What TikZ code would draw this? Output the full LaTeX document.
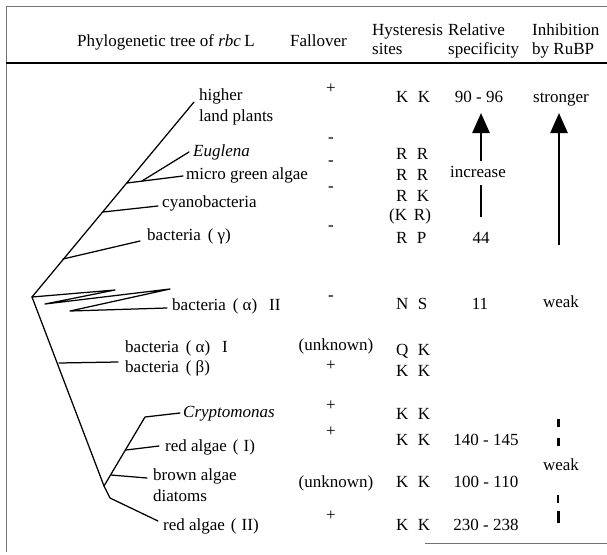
\documentclass[tikz,border=0pt]{standalone}
\usepackage{fontspec}
\setmainfont{Liberation Serif}
\usetikzlibrary{arrows.meta}
\begin{document}
\begin{tikzpicture}[x=1pt,y=-1pt,
  txt/.style={inner sep=0pt,text height=11.5pt,text depth=3.7pt,font=\fontsize{17}{20}\selectfont},
  lbl/.style={txt,anchor=west},
  ctr/.style={txt},
  tree/.style={line width=1.25pt,line cap=round,line join=round},
  framegray/.style={line width=0.9pt,draw=black!55},
  frameblack/.style={line width=1.3pt,draw=black},
  bigarrow/.style={line width=2.6pt,-{Triangle[length=20pt,width=17pt]}},
  stem/.style={line width=2.6pt},
  dashmark/.style={line width=3pt}]
\useasboundingbox (0,0) rectangle (607,554);
% frame
\coordinate (fTL) at (6,6);
\coordinate (fTR) at (607,6);
\coordinate (fBL) at (6,552);
\coordinate (hL) at (6,63);
\coordinate (hR) at (607,63);
\coordinate (bL) at (425,543);
\coordinate (bR) at (607,543);
\draw[framegray] (fTL) -- (fTR);
\draw[framegray] (fTL) -- (fBL);
\draw[frameblack] (hL) -- (hR);
\draw[framegray] (bL) -- (bR);
% header
\node[lbl] (hPhy) at (77,43) {Phylogenetic tree of \textit{rbc}\hspace{0.2em}L};
\node[lbl] (hFal) at (290,43) {Fallover};
\node[lbl] (hHys) at (372,32) {Hysteresis};
\node[lbl] (hSit) at (372,51) {sites};
\node[lbl] (hRel) at (448,32) {Relative};
\node[lbl] (hSpe) at (448,51) {specificity};
\node[lbl] (hInh) at (532,32) {Inhibition};
\node[lbl] (hBy)  at (532,51) {by RuBP};
% tree labels
\node[lbl] (tHig) at (199,97) {higher};
\node[lbl] (tLan) at (199,118) {land plants};
\node[lbl] (tEug) at (193,153) {\textit{Euglena}};
\node[lbl] (tMic) at (186,176) {micro green algae};
\node[lbl] (tCya) at (162,204) {cyanobacteria};
\node[lbl] (tGam) at (147,237) {bacteria\hspace{0.4em}(\hspace{0.25em}γ)};
\node[lbl] (tAl2) at (172,307) {bacteria\hspace{0.4em}(\hspace{0.25em}α)\hspace{0.7em}II};
\node[lbl] (tAl1) at (125,349) {bacteria\hspace{0.4em}(\hspace{0.25em}α)\hspace{0.7em}I};
\node[lbl] (tBet) at (125,369) {bacteria\hspace{0.4em}(\hspace{0.25em}β)};
\node[lbl] (tCry) at (183,414) {\textit{Cryptomonas}};
\node[lbl] (tRe1) at (165,448) {red algae\hspace{0.35em}(\hspace{0.3em}I)};
\node[lbl] (tBro) at (153,477) {brown algae};
\node[lbl] (tDia) at (153,498) {diatoms};
\node[lbl] (tRe2) at (163,527) {red algae\hspace{0.35em}(\hspace{0.3em}II)};
% tree
\coordinate (root) at (32,297);
\coordinate (eHig) at (194,102);
\coordinate (nMic) at (127,183);
\coordinate (eMic) at (183,176);
\coordinate (nEug) at (142,181);
\coordinate (eEug) at (189,152);
\coordinate (nCya) at (103,212);
\coordinate (eCya) at (158,206);
\coordinate (nGam) at (63,259);
\coordinate (eGam) at (140,241);
\coordinate (z1) at (115,290);
\coordinate (z2) at (45,304);
\coordinate (z3) at (170,289);
\coordinate (z4) at (70,311);
\coordinate (eAl2) at (167,308);
\coordinate (nBet) at (59,363);
\coordinate (eBet) at (118,362);
\coordinate (nSub) at (104,486);
\coordinate (nLow) at (110,498);
\coordinate (eRe2) at (158,521);
\coordinate (nCry) at (145,417);
\coordinate (eCry) at (180,413);
\coordinate (nRe1) at (126,450);
\coordinate (eRe1) at (159,446);
\coordinate (nBro) at (111,475);
\coordinate (eBro) at (147,478);
\draw[tree] (root) -- (eHig);
\draw[tree] (nMic) -- (eMic);
\draw[tree] (nEug) -- (eEug);
\draw[tree] (nCya) -- (eCya);
\draw[tree] (nGam) -- (eGam);
\draw[tree] (root) -- (z1) -- (z2) -- (z3) -- (z4) -- (eAl2);
\draw[tree] (root) -- (nSub) -- (nLow) -- (eRe2);
\draw[tree] (nBet) -- (eBet);
\draw[tree] (nSub) -- (nCry) -- (eCry);
\draw[tree] (nRe1) -- (eRe1);
\draw[tree] (nBro) -- (eBro);
% Fallover column
\node[ctr] (f1) at (331,90) {+};
\node[ctr] (f2) at (331,139) {-};
\node[ctr] (f3) at (331,162) {-};
\node[ctr] (f4) at (331,188) {-};
\node[ctr] (f5) at (331,227) {-};
\node[ctr] (f6) at (331,297) {-};
\node[ctr] (f7) at (336,347) {(unknown)};
\node[ctr] (f8) at (331,367) {+};
\node[ctr] (f9) at (331,407) {+};
\node[ctr] (f10) at (331,433) {+};
\node[ctr] (f11) at (336,484) {(unknown)};
\node[ctr] (f12) at (331,517) {+};
% Hysteresis column
\node[lbl] (s1) at (396,99) {K\hspace{0.55em}K};
\node[lbl] (s2) at (396,156) {R\hspace{0.55em}R};
\node[lbl] (s3) at (396,177) {R\hspace{0.55em}R};
\node[lbl] (s4) at (396,198) {R\hspace{0.55em}K};
\node[lbl] (s5) at (389,217) {(K\hspace{0.4em}R)};
\node[lbl] (s6) at (396,240) {R\hspace{0.55em}P};
\node[lbl] (s7) at (396,306) {N\hspace{0.55em}S};
\node[lbl] (s8) at (396,352) {Q\hspace{0.55em}K};
\node[lbl] (s9) at (396,373) {K\hspace{0.55em}K};
\node[lbl] (s10) at (396,416) {K\hspace{0.55em}K};
\node[lbl] (s11) at (396,442) {K\hspace{0.55em}K};
\node[lbl] (s12) at (396,484) {K\hspace{0.55em}K};
\node[lbl] (s13) at (396,527) {K\hspace{0.55em}K};
% Relative specificity column
\node[ctr] (r1) at (479,99) {90 - 96};
\node[ctr] (r2) at (478,174) {increase};
\node[ctr] (r3) at (481,240) {44};
\node[ctr] (r4) at (480,306) {11};
\node[ctr] (r5) at (486,442) {140 - 145};
\node[ctr] (r6) at (486,484) {100 - 110};
\node[ctr] (r7) at (486,527) {230 - 238};
\coordinate (a1b) at (481,161);
\coordinate (a1t) at (481,113);
\coordinate (a1c) at (481,185);
\coordinate (a1d) at (481,217);
\draw[bigarrow] (a1b) -- (a1t);
\draw[stem] (a1c) -- (a1d);
% Inhibition column
\node[ctr] (i1) at (561,99) {stronger};
\node[ctr] (i2) at (561,304) {weak};
\node[ctr] (i3) at (561,467) {weak};
\coordinate (a2b) at (559,245);
\coordinate (a2t) at (559,113);
\draw[bigarrow] (a2b) -- (a2t);
\coordinate (d1a) at (558,419); \coordinate (d1b) at (558,427);
\coordinate (d2a) at (558,438); \coordinate (d2b) at (558,446);
\coordinate (d3a) at (558,495); \coordinate (d3b) at (558,503);
\coordinate (d4a) at (558,511); \coordinate (d4b) at (558,523);
\draw[dashmark] (d1a) -- (d1b);
\draw[dashmark] (d2a) -- (d2b);
\draw[dashmark,line width=2pt] (d3a) -- (d3b);
\draw[dashmark] (d4a) -- (d4b);
\end{tikzpicture}
\end{document}
